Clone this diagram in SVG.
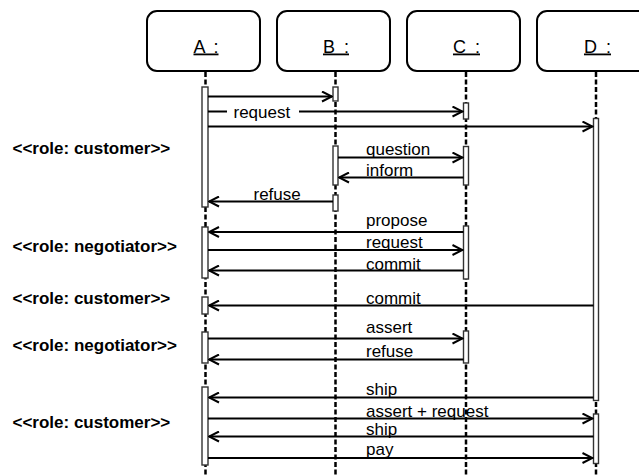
<svg xmlns="http://www.w3.org/2000/svg" width="639" height="476" viewBox="0 0 639 476">
<defs>
<marker id="ah" viewBox="0 0 12 12" refX="11" refY="6" markerWidth="12" markerHeight="12" markerUnits="userSpaceOnUse" orient="auto">
<path d="M1,1 L11,6 L1,11" fill="none" stroke="#000" stroke-width="2"/>
</marker>
</defs>
<style>
.box{fill:#fff;stroke:#000;stroke-width:2}
.name{font-family:"Liberation Sans",Arial,sans-serif;font-size:18px;text-anchor:middle;text-decoration:underline;word-spacing:4px}
.life{stroke:#000;stroke-width:2.5;stroke-dasharray:5 2.5}
.bar{fill:#fff;stroke:#333;stroke-width:1.4}
.msg{stroke:#000;stroke-width:2;fill:none}
.arr{marker-end:url(#ah)}
.lbl{font-family:"Liberation Sans",Arial,sans-serif;font-size:17px;fill:#000}
.role{font-family:"Liberation Sans",Arial,sans-serif;font-size:17px;font-weight:bold;fill:#000}
</style>
<rect width="639" height="476" fill="#fff"/>
<g id="lifelines">
<line class="life" x1="205.5" y1="72" x2="205.5" y2="476"/>
<line class="life" x1="335.5" y1="72" x2="335.5" y2="476"/>
<line class="life" x1="466" y1="72" x2="466" y2="476"/>
<line class="life" x1="596" y1="72" x2="596" y2="476"/>
</g>
<g id="A">
<rect class="box" x="147" y="11" width="113" height="60" rx="10"/>
<text class="name" x="206" y="52.5">A :</text>
</g>
<g id="B">
<rect class="box" x="277" y="11" width="113" height="60" rx="10"/>
<text class="name" x="336" y="52.5">B :</text>
</g>
<g id="C">
<rect class="box" x="407" y="11" width="113" height="60" rx="10"/>
<text class="name" x="466.5" y="52.5">C :</text>
</g>
<g id="D">
<rect class="box" x="537" y="11" width="113" height="60" rx="10"/>
<text class="name" x="597.5" y="52.5">D :</text>
</g>
<g id="activations">
<rect class="bar" x="202" y="87" width="6" height="120"/>
<rect class="bar" x="202" y="227" width="6" height="51"/>
<rect class="bar" x="202" y="297" width="6" height="17"/>
<rect class="bar" x="202" y="332" width="6" height="31"/>
<rect class="bar" x="202" y="387" width="6" height="78"/>
<rect class="bar" x="333" y="87" width="5" height="14"/>
<rect class="bar" x="333" y="146" width="5" height="39"/>
<rect class="bar" x="333" y="195" width="5" height="16"/>
<rect class="bar" x="463.5" y="103" width="5" height="16"/>
<rect class="bar" x="463.5" y="146.5" width="5" height="38.5"/>
<rect class="bar" x="463.5" y="226" width="5" height="53"/>
<rect class="bar" x="463.5" y="331" width="5" height="32"/>
<rect class="bar" x="593.5" y="118.5" width="5" height="282"/>
<rect class="bar" x="593.5" y="414" width="5" height="49.5"/>
</g>
<g id="connectors">
<line class="msg arr" x1="208" y1="96.5" x2="332" y2="96.5"/>
<line class="msg" x1="208" y1="111.5" x2="227" y2="111.5"/>
<line class="msg arr" x1="299" y1="111.5" x2="462.5" y2="111.5"/>
<line class="msg arr" x1="208" y1="126.5" x2="592.5" y2="126.5"/>
<line class="msg arr" x1="338" y1="157.5" x2="462.5" y2="157.5"/>
<line class="msg arr" x1="463.5" y1="177.5" x2="339" y2="177.5"/>
<line class="msg arr" x1="333" y1="201.5" x2="209" y2="201.5"/>
<line class="msg arr" x1="463.5" y1="232" x2="209" y2="232"/>
<line class="msg arr" x1="208" y1="250" x2="462.5" y2="250"/>
<line class="msg arr" x1="463.5" y1="270.5" x2="209" y2="270.5"/>
<line class="msg arr" x1="593.5" y1="305.5" x2="209" y2="305.5"/>
<line class="msg arr" x1="208" y1="338.5" x2="462.5" y2="338.5"/>
<line class="msg arr" x1="463.5" y1="359.5" x2="209" y2="359.5"/>
<line class="msg arr" x1="593.5" y1="397.5" x2="209" y2="397.5"/>
<line class="msg arr" x1="208" y1="418.5" x2="592.5" y2="418.5"/>
<line class="msg arr" x1="593.5" y1="436.5" x2="209" y2="436.5"/>
<line class="msg arr" x1="208" y1="458" x2="592.5" y2="458"/>
</g>
<g id="labels">
<text class="lbl" x="233.5" y="117.5">request</text>
<text class="lbl" x="366" y="155">question</text>
<text class="lbl" x="366" y="176">inform</text>
<text class="lbl" x="253.5" y="200">refuse</text>
<text class="lbl" x="366" y="226">propose</text>
<text class="lbl" x="366" y="248">request</text>
<text class="lbl" x="366" y="270">commit</text>
<text class="lbl" x="366" y="303.5">commit</text>
<text class="lbl" x="366" y="333">assert</text>
<text class="lbl" x="366" y="357">refuse</text>
<text class="lbl" x="366" y="395">ship</text>
<text class="lbl" x="366" y="416.5">assert + request</text>
<text class="lbl" x="366" y="435">ship</text>
<text class="lbl" x="366" y="455">pay</text>
</g>
<g id="roles">
<text class="role" x="12.5" y="154">&lt;&lt;role: customer&gt;&gt;</text>
<text class="role" x="12.5" y="251.5">&lt;&lt;role: negotiator&gt;&gt;</text>
<text class="role" x="12.5" y="304">&lt;&lt;role: customer&gt;&gt;</text>
<text class="role" x="12.5" y="350.5">&lt;&lt;role: negotiator&gt;&gt;</text>
<text class="role" x="12.5" y="428">&lt;&lt;role: customer&gt;&gt;</text>
</g>
</svg>
